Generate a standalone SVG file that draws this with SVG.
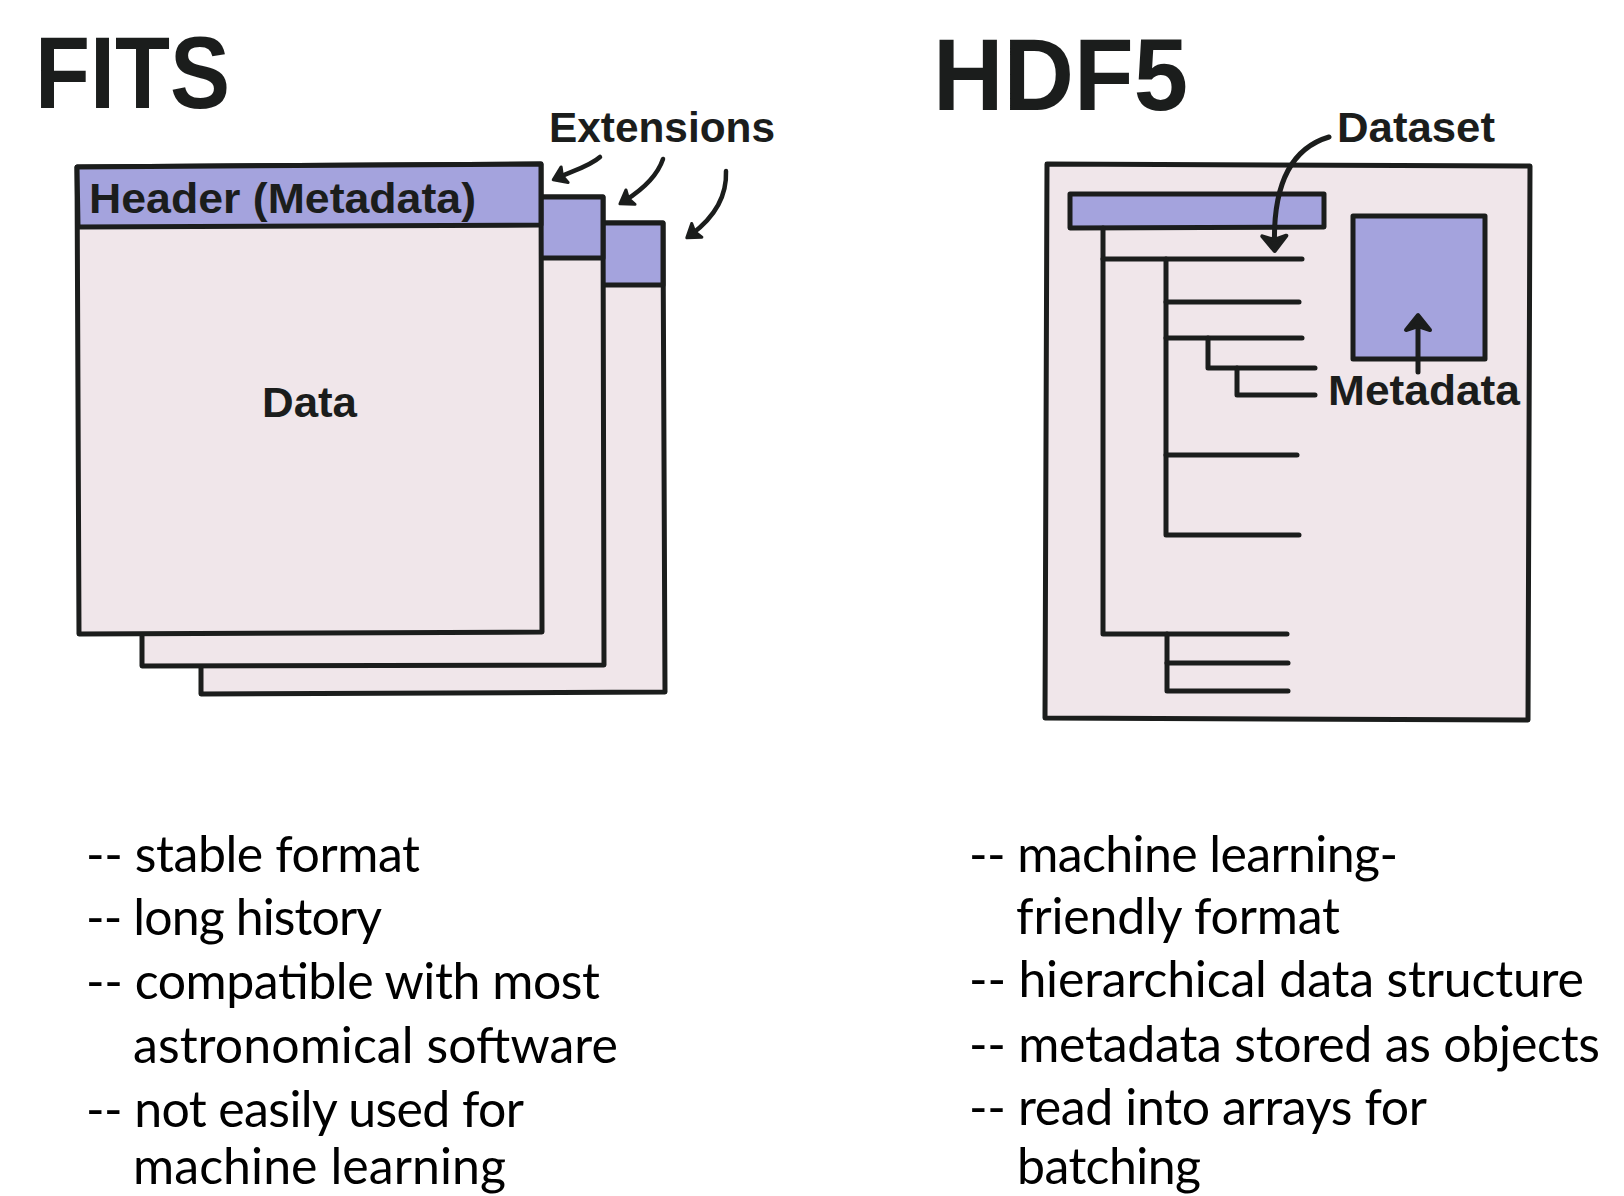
<svg xmlns="http://www.w3.org/2000/svg" width="1624" height="1196" viewBox="0 0 1624 1196">
<style>
.title{font-family:"Liberation Sans",Arial,sans-serif;font-weight:bold;font-size:102px;fill:#1b1d1c}
.lbl{font-family:"Liberation Sans",Arial,sans-serif;font-weight:bold;font-size:43px;fill:#1b1d1c}
.bul{font-family:Lato,"Open Sans",sans-serif;font-size:50px;fill:#000}
.page{fill:#f0e6ea;stroke:#1b1d1c;stroke-width:5;stroke-linejoin:round}
.hdr{fill:#a4a3dd;stroke:#1b1d1c;stroke-width:5;stroke-linejoin:round}
.ln{fill:none;stroke:#1b1d1c;stroke-width:5;stroke-linecap:round;stroke-linejoin:round}
.arr{fill:none;stroke:#1b1d1c;stroke-width:4.5;stroke-linecap:round}
.arrL{fill:none;stroke:#1b1d1c;stroke-width:5;stroke-linecap:round}
</style>
<defs>
<marker id="headS" markerUnits="userSpaceOnUse" viewBox="-22 -14 26 28" refX="-6" refY="0" markerWidth="26" markerHeight="28" orient="auto">
<path d="M0,0 L-12.5,-8.5 L-10,0 L-12.5,8.5 Z" fill="#1b1d1c" stroke="#1b1d1c" stroke-width="3" stroke-linejoin="round"/>
</marker>
<marker id="headL" markerUnits="userSpaceOnUse" viewBox="-24 -18 30 36" refX="-6" refY="0" markerWidth="30" markerHeight="36" orient="auto">
<path d="M0,0 L-15,-12 L-11,0 L-15,12 Z" fill="#1b1d1c" stroke="#1b1d1c" stroke-width="4" stroke-linejoin="round"/>
</marker>
</defs>
<rect width="1624" height="1196" fill="#ffffff"/>

<text id="title-fits" class="title" x="35" y="108" textLength="195" lengthAdjust="spacingAndGlyphs">FITS</text>
<text id="title-hdf5" class="title" x="933" y="110" textLength="255" lengthAdjust="spacingAndGlyphs">HDF5</text>

<g id="fits-ext2">
<path class="page" d="M201,223 L663,223 L665,692 L201,694 Z"/>
<path class="hdr" d="M201,223 L663,223 L663,285 L201,285 Z"/>
</g>
<g id="fits-ext1">
<path class="page" d="M142,197 L603,197 L604,665 L142,666 Z"/>
<path class="hdr" d="M142,197 L603,197 L603,258 L142,258 Z"/>
</g>
<g id="fits-main">
<path class="page" d="M77,167 L541,164 L542,632 L79,634 Z"/>
<path class="hdr" d="M77,167 L541,164 L541,225 L78,227 Z"/>
<text class="lbl" x="89" y="213" font-size="44" textLength="387" lengthAdjust="spacingAndGlyphs">Header (Metadata)</text>
<text class="lbl" x="262" y="417" font-size="44" textLength="95" lengthAdjust="spacingAndGlyphs">Data</text>
</g>
<text id="label-extensions" class="lbl" x="549" y="142" textLength="226" lengthAdjust="spacingAndGlyphs">Extensions</text>

<g id="hdf5-file">
<path class="page" d="M1047,164 L1530,166 L1528,720 L1045,718 Z"/>
<path class="hdr" d="M1070,194 L1324,194 L1324,227 L1070,228 Z"/>
<rect class="hdr" x="1353" y="216" width="132" height="143"/>
</g>
<g id="hdf5-tree">
<path class="ln" d="M1103,228 V634 H1287"/>
<path class="ln" d="M1103,259 H1302"/>
<path class="ln" d="M1166,259 V535 H1299"/>
<path class="ln" d="M1166,302 H1299"/>
<path class="ln" d="M1166,338 H1302"/>
<path class="ln" d="M1208,338 V368 H1315"/>
<path class="ln" d="M1237,368 V395 H1315"/>
<path class="ln" d="M1166,455 H1297"/>
<path class="ln" d="M1167,634 V691 H1288"/>
<path class="ln" d="M1167,663 H1288"/>
</g>
<text id="label-dataset" class="lbl" x="1337" y="142" textLength="158" lengthAdjust="spacingAndGlyphs">Dataset</text>
<text id="label-metadata" class="lbl" x="1328" y="405" textLength="192" lengthAdjust="spacingAndGlyphs">Metadata</text>

<g id="connectors">
<path class="arr" marker-end="url(#headS)" d="M600,157 C590,166 575,170 558.7,177.3"/>
<path class="arr" marker-end="url(#headS)" d="M663,159 C658,174 645,188 625,200.6"/>
<path class="arr" marker-end="url(#headS)" d="M726,171 C727,196 716,216 691.6,234.2"/>
<path class="arrL" marker-end="url(#headL)" d="M1329,137 C1292,148 1273,183 1274.5,245"/>
<path class="arrL" marker-end="url(#headL)" d="M1418,372 L1418,321"/>
</g>

<g id="fits-notes">
<text class="bul" x="86" y="872" textLength="334">-- stable format</text>
<text class="bul" x="86" y="935" textLength="296">-- long history</text>
<text class="bul" x="86" y="999" textLength="514">-- compatible with most</text>
<text class="bul" x="133" y="1063" textLength="485">astronomical software</text>
<text class="bul" x="86" y="1127" textLength="438">-- not easily used for</text>
<text class="bul" x="133" y="1184" textLength="373">machine learning</text>
</g>
<g id="hdf5-notes">
<text class="bul" x="969" y="872" textLength="429">-- machine learning-</text>
<text class="bul" x="1016" y="934" textLength="324">friendly format</text>
<text class="bul" x="969" y="997" textLength="615">-- hierarchical data structure</text>
<text class="bul" x="969" y="1062" textLength="631">-- metadata stored as objects</text>
<text class="bul" x="969" y="1125" textLength="458">-- read into arrays for</text>
<text class="bul" x="1017" y="1184" textLength="184">batching</text>
</g>
</svg>
